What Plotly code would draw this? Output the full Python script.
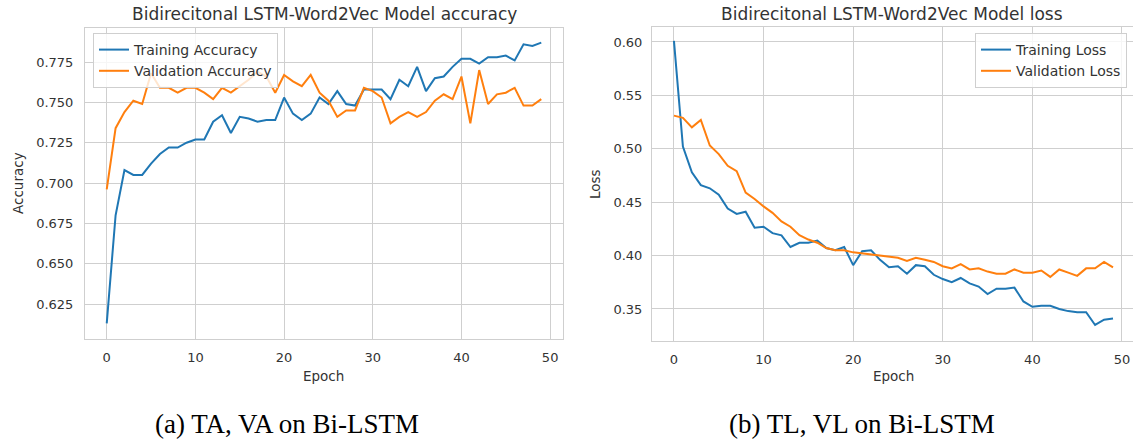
import plotly.graph_objects as go

epochs = list(range(50))

train_acc = [0.613, 0.680, 0.708, 0.705, 0.705, 0.712, 0.718, 0.722, 0.722, 0.725,
             0.727, 0.727, 0.738, 0.742, 0.731, 0.741, 0.740, 0.738, 0.739, 0.739,
             0.753, 0.743, 0.739, 0.743, 0.753, 0.749, 0.757, 0.749, 0.748, 0.758,
             0.758, 0.758, 0.752, 0.764, 0.760, 0.772, 0.757, 0.765, 0.766, 0.772,
             0.777, 0.777, 0.774, 0.778, 0.778, 0.779, 0.776, 0.786, 0.785, 0.787]
val_acc = [0.696, 0.734, 0.744, 0.751, 0.749, 0.768, 0.759, 0.759, 0.756, 0.759,
           0.759, 0.756, 0.752, 0.759, 0.756, 0.760, 0.764, 0.769, 0.766, 0.756,
           0.767, 0.763, 0.760, 0.767, 0.756, 0.751, 0.741, 0.745, 0.745, 0.759,
           0.757, 0.753, 0.737, 0.741, 0.744, 0.741, 0.744, 0.751, 0.755, 0.752,
           0.766, 0.737, 0.770, 0.749, 0.755, 0.756, 0.759, 0.748, 0.748, 0.752]

train_loss = [0.601, 0.502, 0.478, 0.466, 0.463, 0.457, 0.444, 0.439, 0.441, 0.426,
              0.427, 0.421, 0.419, 0.408, 0.412, 0.412, 0.414, 0.407, 0.405, 0.408,
              0.391, 0.404, 0.405, 0.396, 0.389, 0.390, 0.383, 0.391, 0.390, 0.382,
              0.378, 0.375, 0.379, 0.374, 0.371, 0.364, 0.369, 0.369, 0.370, 0.357,
              0.352, 0.353, 0.353, 0.350, 0.348, 0.347, 0.347, 0.335, 0.340, 0.341]
val_loss = [0.531, 0.529, 0.520, 0.527, 0.503, 0.495, 0.484, 0.479, 0.459, 0.453,
            0.446, 0.440, 0.432, 0.427, 0.419, 0.415, 0.412, 0.407, 0.405, 0.405,
            0.403, 0.402, 0.401, 0.400, 0.399, 0.398, 0.395, 0.398, 0.396, 0.394,
            0.390, 0.388, 0.392, 0.387, 0.388, 0.385, 0.383, 0.383, 0.387, 0.384,
            0.384, 0.386, 0.380, 0.387, 0.384, 0.381, 0.388, 0.388, 0.394, 0.389]

x_ticks = [0, 10, 20, 30, 40, 50]
acc_ticks = [0.625, 0.650, 0.675, 0.700, 0.725, 0.750, 0.775]
loss_ticks = [0.35, 0.40, 0.45, 0.50, 0.55, 0.60]

BLUE = "#1f77b4"
ORANGE = "#ff7f0e"
GRID = "#cfcfcf"
TXT = "#333333"
FONT = "DejaVu Sans"
W, H = 1133, 442

fig = go.Figure()
fig.add_trace(go.Scatter(x=epochs, y=train_acc, mode="lines", name="Training Accuracy",
                         line=dict(color=BLUE, width=2), xaxis="x", yaxis="y", legend="legend"))
fig.add_trace(go.Scatter(x=epochs, y=val_acc, mode="lines", name="Validation Accuracy",
                         line=dict(color=ORANGE, width=2), xaxis="x", yaxis="y", legend="legend"))
fig.add_trace(go.Scatter(x=epochs, y=train_loss, mode="lines", name="Training Loss",
                         line=dict(color=BLUE, width=2), xaxis="x2", yaxis="y2", legend="legend2"))
fig.add_trace(go.Scatter(x=epochs, y=val_loss, mode="lines", name="Validation Loss",
                         line=dict(color=ORANGE, width=2), xaxis="x2", yaxis="y2", legend="legend2"))

def px(v):
    return v / W

def py(v):
    return 1 - v / H

axis_common = dict(showgrid=True, gridcolor=GRID, gridwidth=1, showline=True, linecolor=GRID,
                   linewidth=1, mirror=True, zeroline=False,
                   tickfont=dict(family=FONT, size=13, color=TXT),
                   ticks="outside", tickcolor="rgba(0,0,0,0)")

fig.update_layout(
    width=W, height=H, margin=dict(l=0, r=0, t=0, b=0),
    paper_bgcolor="white", plot_bgcolor="white",
    xaxis=dict(domain=[px(85), px(563)], range=[-2.45, 51.45], tickvals=x_ticks,
               anchor="y", ticklen=6, **axis_common),
    yaxis=dict(domain=[py(339), py(28)], range=[0.6033, 0.7961], tickvals=acc_ticks,
               tickformat=".3f", anchor="x", ticklen=8, **axis_common),
    xaxis2=dict(domain=[px(652), 1.0], range=[-2.45, 51.23], tickvals=x_ticks,
                anchor="y2", ticklen=6, **axis_common),
    yaxis2=dict(domain=[py(341), py(27)], range=[0.3200, 0.6140], tickvals=loss_ticks,
                tickformat=".2f", anchor="x2", ticklen=6, **axis_common),
    legend=dict(x=px(93), y=py(33), xanchor="left", yanchor="top",
                bgcolor="rgba(255,255,255,0.8)", bordercolor=GRID, borderwidth=1,
                font=dict(family=FONT, size=14, color=TXT), tracegroupgap=0),
    legend2=dict(x=px(1127), y=py(33), xanchor="right", yanchor="top",
                 bgcolor="rgba(255,255,255,0.8)", bordercolor=GRID, borderwidth=1,
                 font=dict(family=FONT, size=14, color=TXT), tracegroupgap=0),
    showlegend=True,
)

annos = [
    dict(text="Bidirecitonal LSTM-Word2Vec Model accuracy", x=px(324), y=py(14), size=17),
    dict(text="Bidirecitonal LSTM-Word2Vec Model loss", x=px(892), y=py(14), size=17),
    dict(text="Epoch", x=px(323), y=py(376), size=13.5),
    dict(text="Epoch", x=px(893), y=py(376), size=13.5),
]
for a in annos:
    fig.add_annotation(text=a["text"], x=a["x"], y=a["y"], xref="paper", yref="paper",
                       xanchor="center", yanchor="middle", showarrow=False,
                       font=dict(family=FONT, size=a["size"], color=TXT))

fig.add_annotation(text="Accuracy", x=px(18), y=py(183), xref="paper", yref="paper",
                   xanchor="center", yanchor="middle", showarrow=False, textangle=-90,
                   font=dict(family=FONT, size=13.5, color=TXT))
fig.add_annotation(text="Loss", x=px(595), y=py(184), xref="paper", yref="paper",
                   xanchor="center", yanchor="middle", showarrow=False, textangle=-90,
                   font=dict(family=FONT, size=13.5, color=TXT))

for text, cx in [("(a) TA, VA on Bi-LSTM", 287), ("(b) TL, VL on Bi-LSTM", 862)]:
    fig.add_annotation(text=text, x=px(cx), y=py(440), xref="paper", yref="paper",
                       xanchor="center", yanchor="bottom", showarrow=False, borderpad=0,
                       font=dict(family="Liberation Serif", size=27, color="black"))

fig.write_html("out.html")
